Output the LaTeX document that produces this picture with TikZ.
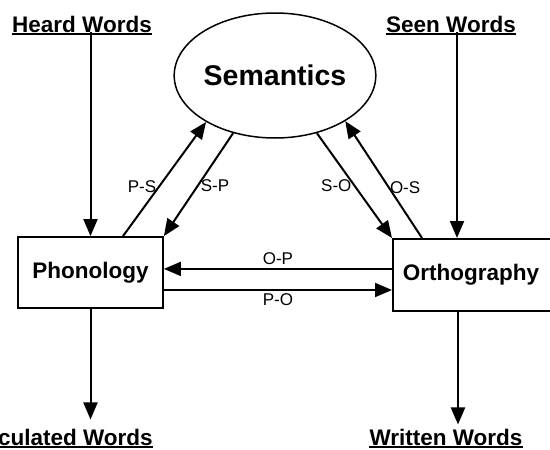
\documentclass[tikz,border=0pt]{standalone}
\usepackage{fontspec}
\setmainfont{Liberation Sans}
\usetikzlibrary{arrows.meta,shapes.geometric}
\tikzset{
  arr/.style={line width=2pt,-{Triangle[length=17pt,width=14pt]}},
  heading/.style={font=\fontsize{22.5}{27}\bfseries\selectfont,inner sep=0pt,anchor=base},
  box/.style={draw,line width=1.8pt,inner sep=0pt,font=\fontsize{22.5}{27}\bfseries\selectfont},
  lab/.style={font=\fontsize{17}{20}\selectfont,inner sep=2pt},
  uline/.style={line width=1.6pt}
}
\begin{document}
\begin{tikzpicture}[x=1pt,y=-1pt]
\useasboundingbox (0,0) rectangle (550,450);
% nodes
\node[draw,ellipse,line width=1.5pt,minimum width=184pt,minimum height=125pt,inner sep=0pt,
      font=\fontsize{28.5}{32}\bfseries\selectfont] (sem) at (275,75.5) {Semantics};
\node[box,minimum width=145pt,minimum height=71pt] (phon) at (90.5,272.5) {Phonology};
\node[box,minimum height=72pt,text width=150pt,align=left,inner xsep=10pt,anchor=north west] (orth) at (392,238) {Orthography};
\node[heading] (heard) at (82,32) {Heard Words};
\node[heading] (seen) at (451,32) {Seen Words};
\node[heading] (artic) at (56,445) {Articulated Words};
\node[heading] (written) at (446,445) {Written Words};
\coordinate (atip) at ([yshift=9pt]artic.north);
\coordinate (wtip) at ([yshift=4pt]written.north);
\coordinate (seenx) at ([xshift=65pt]orth.north west);
\coordinate (writx) at ([xshift=66pt]orth.south west);
% underlines
\foreach \n in {heard,seen,artic,written}
  \draw[uline] ([yshift=-1.8pt]\n.base west) -- ([yshift=-1.8pt]\n.base east);
% input / output arrows
\draw[arr] (phon.north |- heard.base) -- (phon.north);
\draw[arr] (seenx |- seen.base) -- (seenx);
\draw[arr] (phon.south) -- (phon.south |- atip);
\draw[arr] (writx) -- (writx |- wtip);
% semantics links
\draw[arr] ([xshift=32.5pt]phon.north) -- node[lab,pos=0.435,anchor=east] {P-S} (sem.214);
\draw[arr] (sem.234) -- node[lab,pos=0.51,anchor=west] {S-P} (phon.north east);
\draw[arr] (sem.306) -- node[lab,pos=0.5,anchor=east] {S-O} (orth.north west);
\draw[arr] ([xshift=30pt]orth.north west) -- node[lab,pos=0.43,anchor=west,inner sep=0pt] {O-S} (sem.327);
% phonology-orthography links
\draw[arr] ([yshift=6pt]orth.west) -- node[lab,above,inner sep=3pt] {O-P} ([yshift=6pt]orth.west -| phon.east);
\draw[arr] ([yshift=-17.5pt]phon.east) -- node[lab,below,inner sep=3pt] {P-O} ([yshift=-17.5pt]phon.east -| orth.west);
\end{tikzpicture}
\end{document}
